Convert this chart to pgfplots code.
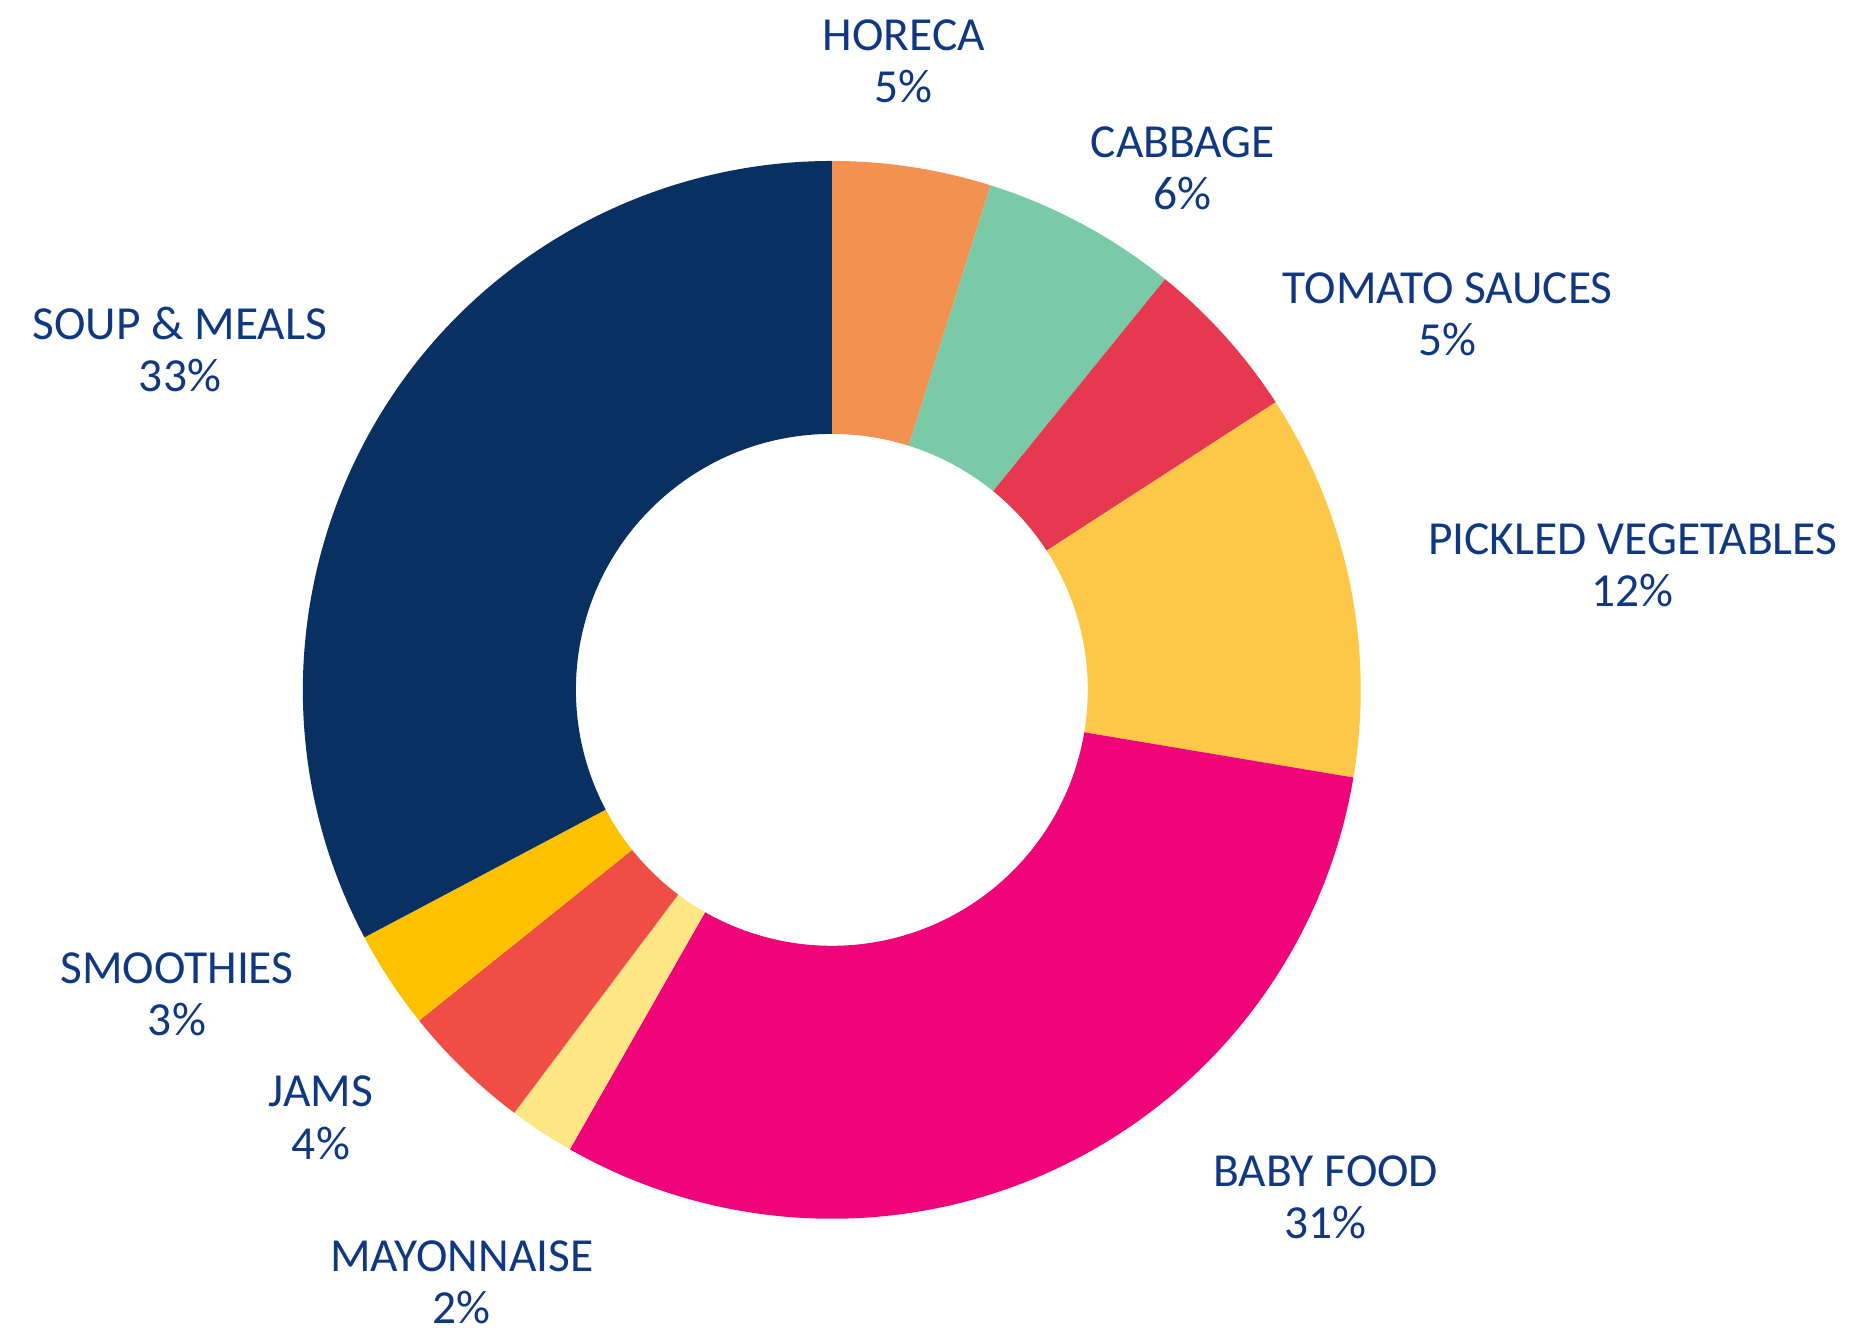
\documentclass[border=0pt]{standalone}
\usepackage{pgfplots}
\usepackage{pgfplotstable}
\pgfplotsset{compat=1.18}
\usepackage{fontspec}
\setmainfont{Carlito}

\definecolor{txt}{HTML}{103882}
\definecolor{cHoreca}{HTML}{F39150}
\definecolor{cCabbage}{HTML}{7AC9A7}
\definecolor{cTomato}{HTML}{E63950}
\definecolor{cPickled}{HTML}{FDC748}
\definecolor{cBaby}{HTML}{F0047A}
\definecolor{cMayo}{HTML}{FEE685}
\definecolor{cJams}{HTML}{F04E45}
\definecolor{cSmoothies}{HTML}{FDC100}
\definecolor{cSoup}{HTML}{083061}

\tikzset{lbl/.style={font=\fontsize{13.5}{14.8}\selectfont, text=txt, align=center}}

% shares, clockwise from 12 o'clock
\pgfplotstableread[col sep=comma]{
name,value,col
HORECA,4.85,cHoreca
CABBAGE,6.0,cCabbage
TOMATO SAUCES,5.0,cTomato
PICKLED VEGETABLES,11.8,cPickled
BABY FOOD,30.6,cBaby
MAYONNAISE,2.0,cMayo
JAMS,4.0,cJams
SMOOTHIES,3.0,cSmoothies
SOUP MEALS,32.75,cSoup
}\shares

\begin{document}
\begin{tikzpicture}
\begin{axis}[
  x=1cm, y=1cm,
  xmin=-8.32, xmax=10.17,
  ymin=-6.38, ymax=6.90,
  hide axis, clip=false,
  ]
  \path (axis cs:-8.32,-6.38) rectangle (axis cs:10.17,6.90);
  \pgfplotstablegetrowsof{\shares}
  \pgfmathtruncatemacro\nrows{\pgfplotsretval-1}
  \gdef\cum{0}
  \foreach \i in {0,...,\nrows}{
    \pgfplotstablegetelem{\i}{value}\of\shares \let\v\pgfplotsretval
    \pgfplotstablegetelem{\i}{col}\of\shares \let\c\pgfplotsretval
    \pgfmathsetmacro\aa{90-3.6*\cum}
    \pgfmathsetmacro\ab{90-3.6*(\cum+\v)}
    \pgfmathsetmacro\xa{5.29*cos(\aa)}
    \pgfmathsetmacro\ya{5.29*sin(\aa)}
    \pgfmathsetmacro\xb{2.56*cos(\ab)}
    \pgfmathsetmacro\yb{2.56*sin(\ab)}
    \edef\temp{\noexpand\fill[fill=\c] (axis cs:\xa,\ya)
      arc[start angle=\aa, end angle=\ab, radius=5.29cm]
      -- (axis cs:\xb,\yb)
      arc[start angle=\ab, end angle=\aa, radius=2.56cm] -- cycle;}
    \temp
    \pgfmathsetmacro\newcum{\cum+\v}
    \xdef\cum{\newcum}
  }
  \node[lbl] at (axis cs:0.72,6.29) {HORECA\\5\%};
  \node[lbl] at (axis cs:3.51,5.22) {CABBAGE\\6\%};
  \node[lbl] at (axis cs:6.16,3.76) {TOMATO SAUCES\\5\%};
  \node[lbl] at (axis cs:8.01,1.25) {PICKLED VEGETABLES\\12\%};
  \node[lbl] at (axis cs:4.94,-5.08) {BABY FOOD\\31\%};
  \node[lbl] at (axis cs:-3.70,-5.93) {MAYONNAISE\\2\%};
  \node[lbl] at (axis cs:-5.11,-4.28) {JAMS\\4\%};
  \node[lbl] at (axis cs:-6.55,-3.04) {SMOOTHIES\\3\%};
  \node[lbl] at (axis cs:-6.52,3.40) {SOUP \& MEALS\\33\%};
\end{axis}
\end{tikzpicture}
\end{document}
